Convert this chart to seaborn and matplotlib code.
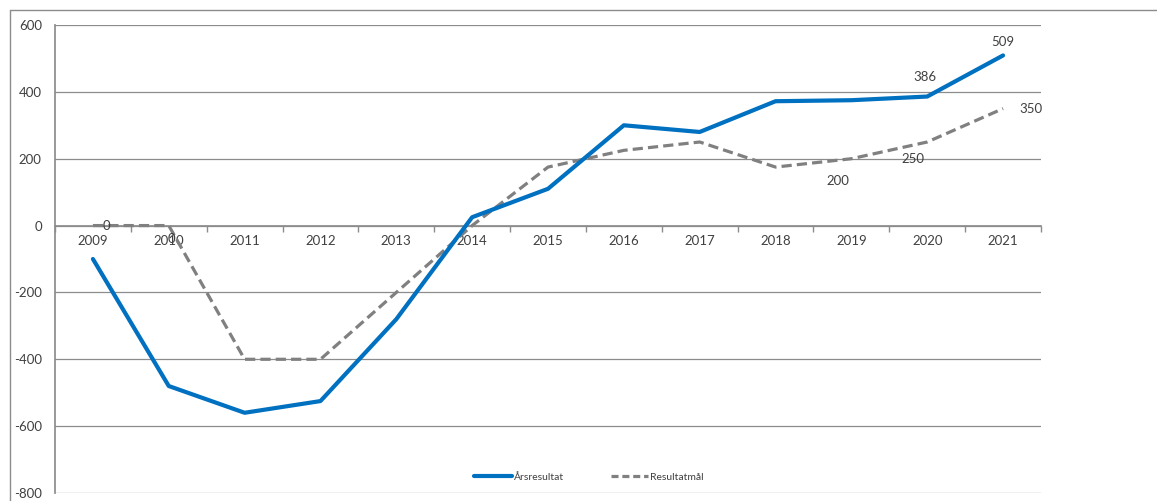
import matplotlib
matplotlib.use("Agg")
import matplotlib.pyplot as plt
import seaborn as sns
import pandas as pd
from matplotlib.lines import Line2D

years = [2009, 2010, 2011, 2012, 2013, 2014, 2015, 2016, 2017, 2018, 2019, 2020, 2021]
arsresultat = [-100, -480, -560, -525, -280, 25, 110, 300, 280, 372, 375, 386, 509]
resultatmal = [0, 0, -400, -400, -200, 0, 175, 225, 250, 175, 200, 250, 350]
yticks = [-800, -600, -400, -200, 0, 200, 400, 600]

sns.set_theme(style="white")
plt.rcParams['font.family'] = ['Lato', 'DejaVu Sans']

df = pd.concat([
    pd.DataFrame({"År": years, "Värde": arsresultat, "Serie": "Årsresultat"}),
    pd.DataFrame({"År": years, "Värde": resultatmal, "Serie": "Resultatmål"}),
])

fig = plt.figure(figsize=(11.57, 5.01), dpi=100)
ax = fig.add_axes([55/1157, 1-493/501, (1041-55)/1157, (493-25)/501])

palette = {"Årsresultat": "#0070C0", "Resultatmål": "#808080"}
sns.lineplot(data=df, x="År", y="Värde", hue="Serie", palette=palette, ax=ax, legend=False,
             sort=False)
lines = ax.get_lines()
lines[0].set_linewidth(3.0)
lines[0].set_solid_capstyle("round")
lines[1].set_linewidth(2.3)
lines[1].set_dashes([3.2, 1.6])
lines[1].set_zorder(3)
lines[0].set_zorder(4)

ax.set_xlim(years[0]-0.5, years[-1]+0.5)
ax.set_ylim(yticks[0], yticks[-1])
ax.set_yticks(yticks)
ax.set_yticklabels([str(v) for v in yticks], fontsize=9.5, color="#404040")
ax.yaxis.grid(True, color="#8c8c8c", linewidth=0.9)
ax.set_axisbelow(True)
ax.set_xlabel("")
ax.set_ylabel("")

ax.spines['top'].set_visible(False)
ax.spines['right'].set_visible(False)
ax.spines['left'].set_color("#8c8c8c")
ax.spines['bottom'].set_position(('data', 0))
ax.spines['bottom'].set_color("#8c8c8c")
ax.tick_params(axis='y', length=0, pad=9.5)

ax.set_xticks(years)
ax.set_xticklabels([str(y) for y in years], fontsize=9.5, color="#404040")
ax.set_xticks([y - 0.5 for y in years] + [years[-1] + 0.5], minor=True)
ax.tick_params(axis='x', which='major', length=0, pad=7)
ax.tick_params(axis='x', which='minor', length=4, color="#8c8c8c", direction='out', bottom=True)

# data labels
lab_kw = dict(fontsize=9.5, color="#404040", ha="center", va="center")
ax.annotate(str(resultatmal[0]), (years[0], resultatmal[0]), xytext=(10, 0), textcoords="offset points", **lab_kw)
ax.annotate(str(resultatmal[1]), (years[1], resultatmal[1]), xytext=(2, -10), textcoords="offset points", **lab_kw)
ax.annotate(str(resultatmal[10]), (years[10], resultatmal[10]), xytext=(-10, -16), textcoords="offset points", **lab_kw)
ax.annotate(str(resultatmal[11]), (years[11], resultatmal[11]), xytext=(-10, -12), textcoords="offset points", **lab_kw)
ax.annotate(str(resultatmal[12]), (years[12], resultatmal[12]), xytext=(20, 0), textcoords="offset points", **lab_kw)
ax.annotate(str(arsresultat[11]), (years[11], arsresultat[11]), xytext=(-2, 14), textcoords="offset points", **lab_kw)
ax.annotate(str(arsresultat[12]), (years[12], arsresultat[12]), xytext=(0, 10), textcoords="offset points", **lab_kw)

handles = [Line2D([], [], color="#0070C0", linewidth=3.0),
           Line2D([], [], color="#808080", linewidth=2.3, dashes=[2.2, 1.2])]
ax.legend(handles, ["Årsresultat", "Resultatmål"], loc="center", bbox_to_anchor=((589-55)/986, (493-477)/468),
          ncol=2, frameon=False, fontsize=7.5, handlelength=3.6, handletextpad=0.2, columnspacing=4.5,
          labelcolor="#404040")

# chart border
fig.add_artist(Line2D([10/1157, 10/1157], [0, 1-10/501], color="#8c8c8c", linewidth=1.0, transform=fig.transFigure))
fig.add_artist(Line2D([10/1157, 1], [1-10/501, 1-10/501], color="#8c8c8c", linewidth=1.0, transform=fig.transFigure))

fig.savefig("out.png", dpi=100)
